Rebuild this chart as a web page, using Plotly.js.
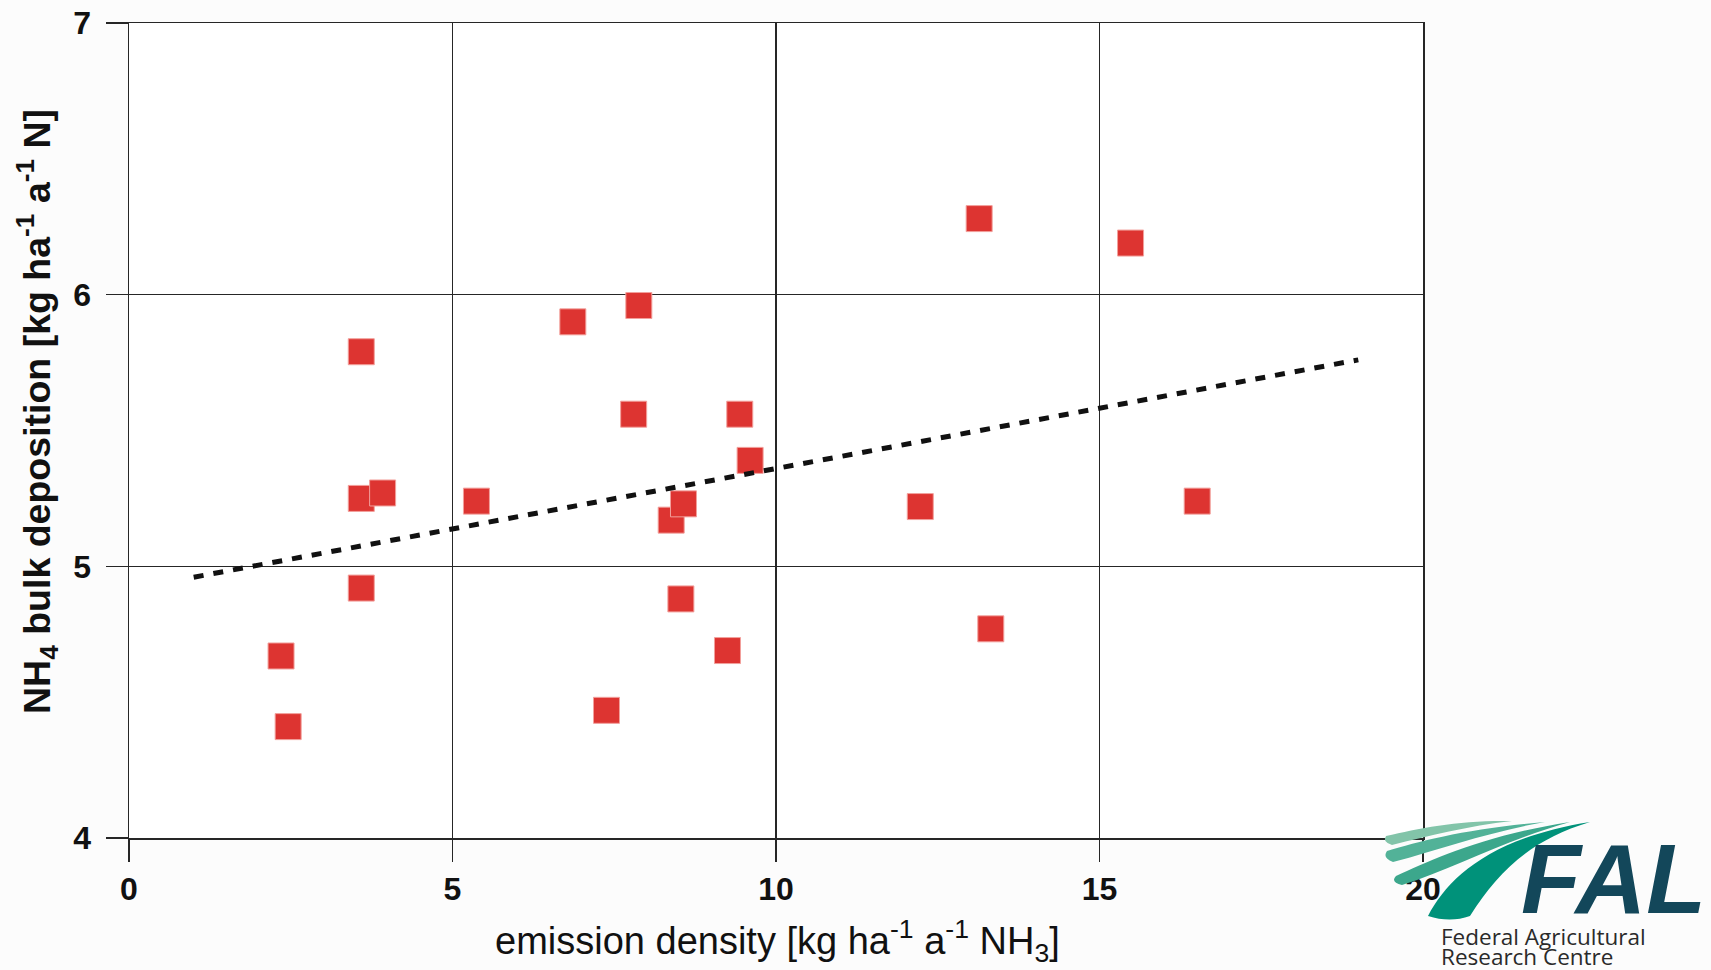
<!DOCTYPE html>
<html>
<head>
<meta charset="utf-8">
<script src="https://cdn.plot.ly/plotly-3.0.1.min.js"></script>
<style>
  html, body { margin: 0; padding: 0; background: #fcfcfc; }
  #chart { width: 1711px; height: 970px; }
</style>
</head>
<body>
<div id="chart"></div>
<script>
// ---- data ----
var emissionDensity = [2.35, 2.46, 3.59, 3.59, 3.92, 3.59, 5.37, 6.86, 7.88, 7.80, 7.38,
                       8.38, 8.57, 8.53, 9.25, 9.44, 9.60, 12.23, 13.14, 13.32, 15.48, 16.51];
var nh4Deposition   = [4.67, 4.41, 5.79, 5.25, 5.27, 4.92, 5.24, 5.90, 5.96, 5.56, 4.47,
                       5.17, 5.23, 4.88, 4.69, 5.56, 5.39, 5.22, 6.28, 4.77, 6.19, 5.24];
var trendX = [1.0, 19.0];
var trendY = [4.96, 5.76];
var xTicks = [0, 5, 10, 15, 20];
var yTicks = [4, 5, 6, 7];
var xTitle = 'emission density [kg ha<sup>-1</sup> a<sup>-1</sup> NH<sub>3</sub>]';
var yTitle = 'NH<sub>4</sub> bulk deposition [kg ha<sup>-1</sup> a<sup>-1</sup> N]';
var logoName = 'FAL';
var logoLine1 = 'Federal Agricultural';
var logoLine2 = 'Research Centre';

// ---- page geometry (pixels) ----
var W = 1711, H = 970;
var L = 129, R = 1423, T = 23, B = 838;
function px(x) { return (x - L) / (R - L); }
function py(y) { return (B - y) / (B - T); }
function pathPx(s) {
  return s.replace(/(-?\d+\.?\d*),(-?\d+\.?\d*)/g, function (m, a, b) {
    return px(parseFloat(a)).toFixed(5) + ',' + py(parseFloat(b)).toFixed(5);
  });
}

var gridColor = '#262626';
var tickFont = { family: 'Liberation Sans, Arial, sans-serif', size: 32, color: '#111', weight: 'bold' };

var traces = [
  {
    type: 'scatter', mode: 'markers',
    x: emissionDensity, y: nh4Deposition,
    marker: { symbol: 'square', size: 26, color: '#dd3431', line: { color: '#f2a09c', width: 1 } },
    hoverinfo: 'x+y', showlegend: false
  },
  {
    type: 'scatter', mode: 'lines',
    x: trendX, y: trendY,
    line: { color: '#111111', width: 5, dash: '10px,10px' },
    hoverinfo: 'skip', showlegend: false
  }
];

var swooshes = [
  { c: '#82c4a9', d: 'M1386,836 C1420,828 1460,820 1512,821 C1468,826 1428,836 1392,845 Q1382,842 1386,836 Z' },
  { c: '#52b298', d: 'M1387,851 C1420,841 1470,828 1545,822 C1488,832 1445,848 1393,862 Q1382,858 1387,851 Z' },
  { c: '#3ca78c', d: 'M1396,876 C1430,861 1480,836 1570,822 C1505,840 1455,868 1402,885 Q1390,882 1396,876 Z' },
  { c: '#00927a', d: 'M1428,916 C1448,878 1490,838 1590,822 C1530,840 1498,872 1470,916 Q1450,923 1428,916 Z' }
];
var shapes = swooshes.map(function (s) {
  return { type: 'path', xref: 'paper', yref: 'paper', path: pathPx(s.d),
           fillcolor: s.c, line: { width: 0 }, layer: 'above' };
});

var annotations = [
  { text: xTitle, xref: 'paper', yref: 'paper', x: px(777), y: py(941),
    xanchor: 'center', yanchor: 'middle', showarrow: false,
    font: { family: 'Liberation Sans, Arial, sans-serif', size: 38, color: '#111' } },
  { text: yTitle, xref: 'paper', yref: 'paper', x: px(37), y: py(412),
    xanchor: 'center', yanchor: 'middle', showarrow: false, textangle: -90,
    font: { family: 'Liberation Sans, Arial, sans-serif', size: 37.5, color: '#111', weight: 'bold' } },
  { text: logoName, xref: 'paper', yref: 'paper', x: px(1613), y: py(879),
    xanchor: 'center', yanchor: 'middle', showarrow: false,
    font: { family: 'Liberation Sans, Arial, sans-serif', size: 98, color: '#13475a', weight: 'bold', style: 'italic' } },
  { text: logoLine1, xref: 'paper', yref: 'paper', x: px(1439), y: py(936),
    xanchor: 'left', yanchor: 'middle', showarrow: false,
    font: { family: 'Open Sans, Noto Sans, sans-serif', size: 22.5, color: '#2a2a2a' } },
  { text: logoLine2, xref: 'paper', yref: 'paper', x: px(1439), y: py(956),
    xanchor: 'left', yanchor: 'middle', showarrow: false,
    font: { family: 'Open Sans, Noto Sans, sans-serif', size: 22.5, color: '#2a2a2a' } }
];

var layout = {
  width: W, height: H,
  margin: { l: L, r: W - R, t: T, b: H - B, pad: 0 },
  paper_bgcolor: '#fcfcfc',
  plot_bgcolor: '#ffffff',
  showlegend: false,
  xaxis: {
    range: [0, 20], tickvals: xTicks, ticktext: xTicks.map(String),
    showgrid: true, gridcolor: gridColor, gridwidth: 1.5,
    zeroline: false, showline: true, linecolor: gridColor, linewidth: 1.5, mirror: true,
    ticks: 'outside', ticklen: 22, tickwidth: 1.5, tickcolor: gridColor,
    tickfont: tickFont, fixedrange: true
  },
  yaxis: {
    range: [4, 7], tickvals: yTicks, ticktext: yTicks.map(String),
    showgrid: true, gridcolor: gridColor, gridwidth: 1.5,
    zeroline: false, showline: true, linecolor: gridColor, linewidth: 1.5, mirror: true,
    ticks: 'outside', ticklen: 22, tickwidth: 1.5, tickcolor: gridColor,
    ticklabelstandoff: 8,
    tickfont: tickFont, fixedrange: true
  },
  shapes: shapes,
  annotations: annotations
};

Plotly.newPlot('chart', traces, layout, { displayModeBar: false, staticPlot: true });
</script>
</body>
</html>
